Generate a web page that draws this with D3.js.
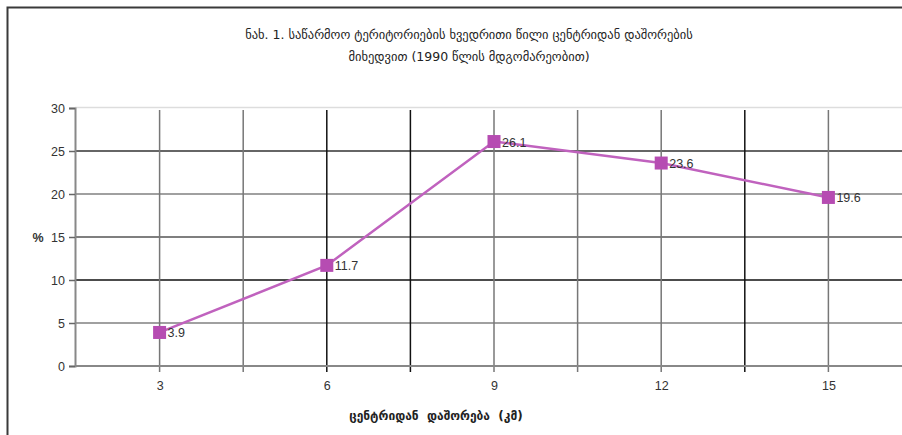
<!DOCTYPE html>
<html><head><meta charset="utf-8">
<script src="https://cdn.jsdelivr.net/npm/d3@7/dist/d3.min.js"></script>
<style>
html,body{margin:0;padding:0;background:#fff;}
svg{display:block;}
</style></head>
<body>
<svg id="c" width="902" height="435"></svg>
<script>
const categories = ["3", "6", "9", "12", "15"];
const values = [3.9, 11.7, 26.1, 23.6, 19.6];
const yTicks = [0, 5, 10, 15, 20, 25, 30];
const titleLines = ["ნახ. 1. საწარმოო ტერიტორიების ხვედრითი წილი ცენტრიდან დაშორების", "მიხედვით (1990 წლის მდგომარეობით)"];
const xTitle = "ცენტრიდან  დაშორება  (კმ)";
const yUnit = "%";

const svg = d3.select("#c");
const font = "Liberation Sans, Arial, sans-serif";

// outer frame
svg.append("rect").attr("x", 7.5).attr("y", 7.5).attr("width", 1000).attr("height", 1000)
  .attr("fill", "none").attr("stroke", "#3a3a3a").attr("stroke-width", 2);

// title
svg.append("g").selectAll("text").data(titleLines).join("text")
  .attr("x", 469).attr("y", (d, i) => 39 + i * 22)
  .attr("text-anchor", "middle").attr("font-family", "DejaVu Sans, sans-serif")
  .attr("font-size", 12.5).attr("fill", "#222").text(d => d);

const x = d3.scalePoint().domain(categories).range([76, 912]).padding(0.5);
const y = d3.scaleLinear().domain([0, 30]).range([366, 108]);
const step = x.step();

// plot top border
svg.append("line").attr("x1", 75).attr("x2", 902).attr("y1", y(30) - 0.5).attr("y2", y(30) - 0.5)
  .attr("stroke", "#ddd").attr("stroke-width", 1.5);

// horizontal gridlines
const hColors = {5: "#a0a0a0", 10: "#111", 15: "#555", 20: "#a0a0a0", 25: "#333"};
svg.append("g").selectAll("line").data(yTicks.filter(t => t > 0 && t < 30)).join("line")
  .attr("x1", 75).attr("x2", 902).attr("y1", d => y(d)).attr("y2", d => y(d))
  .attr("stroke", d => hColors[d]).attr("stroke-width", d => (d === 20 || d === 5) ? 2 : 1.5);

// vertical gridlines: category centres and boundaries
const vLines = [];
categories.forEach((c, i) => {
  vLines.push({pos: x(c), dark: i === 1});
  vLines.push({pos: x(c) + step / 2, dark: i === 1 || i === 3});
});
svg.append("g").selectAll("line").data(vLines).join("line")
  .attr("x1", d => d.pos).attr("x2", d => d.pos)
  .attr("y1", y(30) + 2).attr("y2", y(0) + 6)
  .attr("stroke", d => d.dark ? "#111" : "#777").attr("stroke-width", 1.5);

// x axis line
svg.append("line").attr("x1", 75).attr("x2", 902).attr("y1", y(0)).attr("y2", y(0))
  .attr("stroke", "#888").attr("stroke-width", 2);

// y axis
const yAxis = svg.append("g").attr("transform", "translate(75,0)")
  .call(d3.axisLeft(y).tickValues(yTicks).tickSize(6).tickPadding(4));
yAxis.select(".domain").attr("stroke", "#888").attr("stroke-width", 2);
yAxis.selectAll(".tick line").attr("stroke", "#666").attr("stroke-width", 1.5);
yAxis.selectAll("text").attr("font-family", font).attr("font-size", 12.5).attr("fill", "#333");

svg.append("text").attr("x", 38).attr("y", y(15) + 4.5).attr("font-family", font)
  .attr("font-size", 12.5).attr("font-weight", "bold").attr("fill", "#333")
  .attr("text-anchor", "middle").text(yUnit);

// x tick labels
const xAxis = svg.append("g").attr("transform", `translate(0,${y(0)})`)
  .call(d3.axisBottom(x).tickSize(0).tickPadding(15));
xAxis.select(".domain").remove();
xAxis.selectAll("text").attr("font-family", font).attr("font-size", 12.5).attr("fill", "#333");

// x title
svg.append("text").attr("x", 436).attr("y", 420).attr("text-anchor", "middle")
  .attr("font-family", "DejaVu Sans, sans-serif").attr("font-size", 12).attr("font-weight", "bold")
  .attr("fill", "#222").attr("xml:space", "preserve").style("white-space", "pre").text(xTitle);

// series
const pts = categories.map((c, i) => ({c, v: values[i]}));
svg.append("path").datum(pts)
  .attr("d", d3.line().x(d => x(d.c)).y(d => y(d.v)))
  .attr("fill", "none").attr("stroke", "#c062be").attr("stroke-width", 2.5);

svg.append("g").selectAll("rect").data(pts).join("rect")
  .attr("x", d => x(d.c) - 6.5).attr("y", d => y(d.v) - 6.5)
  .attr("width", 13).attr("height", 13).attr("fill", "#b64cb2");

svg.append("g").selectAll("text").data(pts).join("text")
  .attr("x", d => x(d.c) + 8).attr("y", d => y(d.v) + 5)
  .attr("font-family", font).attr("font-size", 12.5).attr("fill", "#333")
  .text(d => d.v.toFixed(1));
</script>
</body></html>
